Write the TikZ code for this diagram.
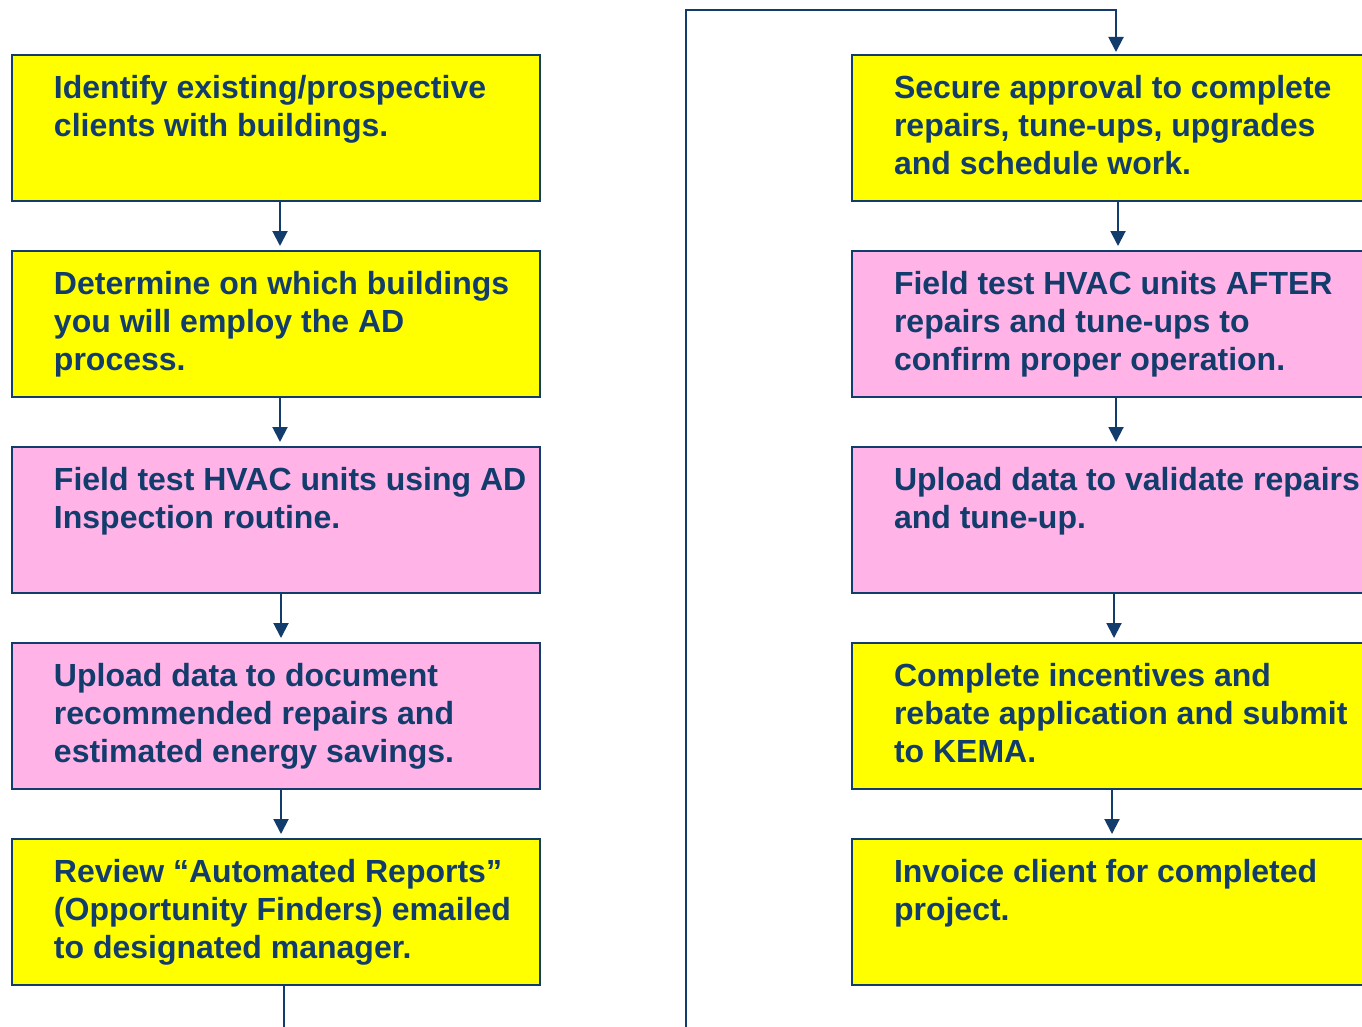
\documentclass[tikz,border=0pt]{standalone}
\usepackage{fontspec}
\setmainfont{Liberation Sans}
\usepackage{tikz}
\usetikzlibrary{arrows.meta, positioning}

\definecolor{navy}{RGB}{18,60,108}
\definecolor{hiyellow}{RGB}{255,255,0}
\definecolor{softpink}{RGB}{255,179,230}

% box text: top aligned, fixed indent
\newcommand{\steptext}[1]{\parbox[c][146pt][t]{528pt}{\raggedright\leftskip=42pt\vspace*{16.5pt}\strut #1}}

\begin{document}
\begin{tikzpicture}[
        x=1pt, y=-1pt,
        node distance=50pt,
        % styles
        stepbox/.style={rectangle, draw=navy, line width=2pt, inner sep=0pt, outer sep=0pt, minimum width=528pt, minimum height=146pt, text=navy, font=\bfseries\fontsize{32}{38}\selectfont},
        yellowbox/.style={stepbox, fill=hiyellow},
        pinkbox/.style={stepbox, fill=softpink},
        arrow/.style={line width=2pt, draw=navy, -{Triangle[length=15pt,width=15pt]}, shorten >=5pt} ]

    \clip (0,0) rectangle (1362,1027);
    \fill[white] (0,0) rectangle (1362,1027);

    % --- LEFT COLUMN ---
    \node (ident)  [yellowbox, anchor=north west] at (12,55) {\steptext{Identify existing/prospective\\clients with buildings.}};
    \node (select) [yellowbox, below=of ident] {\steptext{Determine on which buildings\\you will employ the AD\\process.}};
    \node (testad) [pinkbox, below=of select] {\steptext{Field test HVAC units using AD\\Inspection routine.}};
    \node (upload) [pinkbox, below=of testad] {\steptext{Upload data to document\\recommended repairs and\\estimated energy savings.}};
    \node (review) [yellowbox, below=of upload] {\steptext{Review “Automated Reports”\\(Opportunity Finders) emailed\\to designated manager.}};

    % --- RIGHT COLUMN ---
    \node (secure)   [yellowbox, anchor=north west] at (852,55) {\steptext{Secure approval to complete\\repairs, tune-ups, upgrades\\and schedule work.}};
    \node (retest)   [pinkbox, below=of secure] {\steptext{Field test HVAC units AFTER\\repairs and tune-ups to\\confirm proper operation.}};
    \node (validate) [pinkbox, below=of retest] {\steptext{Upload data to validate repairs\\and tune-up.}};
    \node (rebate)   [yellowbox, below=of validate] {\steptext{Complete incentives and\\rebate application and submit\\to KEMA.}};
    \node (invoice)  [yellowbox, below=of rebate] {\steptext{Invoice client for completed\\project.}};

    % --- CONNECTIONS ---
    \draw [arrow] ([xshift=4pt]ident.south) -- ([xshift=4pt]select.north);
    \draw [arrow] ([xshift=4pt]select.south) -- ([xshift=4pt]testad.north);
    \draw [arrow] ([xshift=5pt]testad.south) -- ([xshift=5pt]upload.north);
    \draw [arrow] ([xshift=5pt]upload.south) -- ([xshift=5pt]review.north);

    % hand-over to the second column
    \coordinate (loopbot) at (686,1060);
    \coordinate (looptop) at (686,10);
    \draw [arrow, shorten >=3pt] ([xshift=8pt]review.south) |- (loopbot) -- (looptop) -| (secure.north);

    \draw [arrow] ([xshift=2pt]secure.south) -- ([xshift=2pt]retest.north);
    \draw [arrow] (retest) -- (validate);
    \draw [arrow] ([xshift=-2pt]validate.south) -- ([xshift=-2pt]rebate.north);
    \draw [arrow] ([xshift=-4pt]rebate.south) -- ([xshift=-4pt]invoice.north);

\end{tikzpicture}
\end{document}
